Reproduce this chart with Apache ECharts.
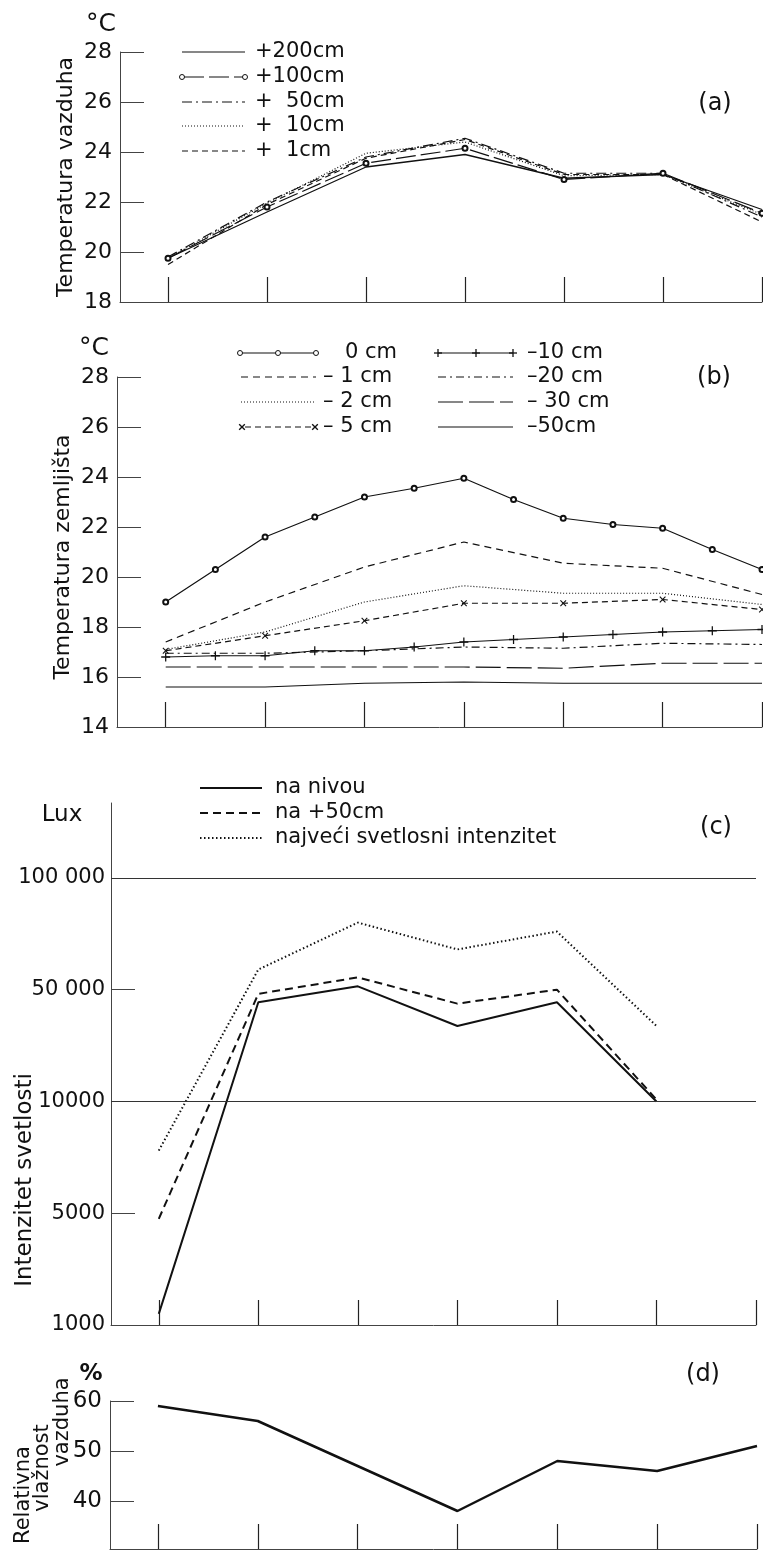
<!doctype html>
<html>
<head>
  <meta charset="utf-8">
  <script src="https://cdn.jsdelivr.net/npm/echarts@6/dist/echarts.min.js"></script>
  <style>
    html, body { margin: 0; width: 100%; height: 100%; background: #fff; }
    #main { width: 763px; height: 1551px; }
  </style>
</head>
<body>
  <div id="main"></div>
  <script>
    // x positions (time steps) - ticks 0..6, soil readings also at half steps
    var xWhole = [0, 1, 2, 3, 4, 5, 6];
    var xHalf = [0, 0.5, 1, 1.5, 2, 2.5, 3, 3.5, 4, 4.5, 5, 5.5, 6];
    var xLux = [0, 1, 2, 3, 4, 5];

    // (a) temperatura vazduha, °C
    var air200 = [19.75, 21.6, 23.4, 23.9, 22.95, 23.1, 21.7];
    var air100 = [19.75, 21.8, 23.55, 24.15, 22.9, 23.15, 21.55];
    var air50 = [19.8, 22.0, 23.8, 24.55, 23.15, 23.15, 21.4];
    var air10 = [19.75, 21.95, 23.95, 24.4, 23.05, 23.1, 21.5];
    var air1 = [19.5, 21.9, 23.75, 24.5, 23.1, 23.1, 21.2];

    // (b) temperatura zemljista, °C
    var soil0 = [19.0, 20.3, 21.6, 22.4, 23.2, 23.55, 23.95, 23.1, 22.35, 22.1, 21.95, 21.1, 20.3];
    var soil1 = [17.4, 19.0, 20.4, 21.4, 20.55, 20.35, 19.3];
    var soil2 = [17.1, 17.8, 19.0, 19.65, 19.35, 19.35, 18.9];
    var soil5 = [17.05, 17.65, 18.25, 18.95, 18.95, 19.1, 18.7];
    var soil10 = [16.8, 16.85, 16.85, 17.05, 17.05, 17.2, 17.4, 17.5, 17.6, 17.7, 17.8, 17.85, 17.9];
    var soil20 = [16.95, 16.95, 17.05, 17.2, 17.15, 17.35, 17.3];
    var soil30 = [16.4, 16.4, 16.4, 16.4, 16.35, 16.55, 16.55];
    var soil50 = [15.6, 15.6, 15.75, 15.8, 15.75, 15.75, 15.75];

    // (c) intenzitet svetlosti, lux
    var luxLevel = [1400, 45500, 51500, 37000, 45500, 10000];
    var lux50 = [4800, 48500, 55500, 45000, 50000, 10700];
    var luxMax = [7800, 59000, 80000, 68000, 76000, 37000];
    var luxTicks = [1000, 5000, 10000, 50000, 100000];
    var luxTickLabels = ['1000', '5000', '10000', '50 000', '100 000'];

    // (d) relativna vlaznost vazduha, %
    var humidity = [59, 56, 47, 38, 48, 46, 51];

    var FONT = 'DejaVu Sans';
    var INK = '#111';

    function zip(xs, ys) {
      return xs.map(function (x, i) { return [x, ys[i]]; });
    }

    // the lux axis has equally spaced ticks: 1000, 5000, 10000, 50000, 100000
    function luxPos(v) {
      for (var i = 0; i < luxTicks.length - 1; i++) {
        if (v <= luxTicks[i + 1]) {
          return i + (v - luxTicks[i]) / (luxTicks[i + 1] - luxTicks[i]);
        }
      }
      var n = luxTicks.length - 1;
      return n + (v - luxTicks[n]) / (luxTicks[n] - luxTicks[n - 1]);
    }

    var plusSymbol = 'path://M4.3,0H5.7V10H4.3Z M0,4.3H10V5.7H0Z';

    function xAxisFor(gridIndex, min) {
      return {
        type: 'value', gridIndex: gridIndex, min: min, max: 6,
        axisLine: { show: true, onZero: false, lineStyle: { color: '#444', width: 1 } },
        axisTick: { show: true, inside: true, length: 25, customValues: xWhole, lineStyle: { color: '#222', width: 1.2 } },
        axisLabel: { show: false },
        splitLine: { show: false }
      };
    }

    function yAxisBase(gridIndex) {
      return {
        type: 'value', gridIndex: gridIndex,
        axisLine: { show: true, onZero: false, lineStyle: { color: '#444', width: 1 } },
        axisTick: { show: true, inside: true, length: 24, lineStyle: { color: '#444', width: 1 } },
        axisLabel: { color: INK, fontFamily: FONT, fontSize: 22, margin: 8 },
        splitLine: { show: false }
      };
    }

    function lineSeries(name, xi, yi, data, style, extra) {
      var s = {
        name: name, type: 'line', xAxisIndex: xi, yAxisIndex: yi,
        data: data, symbol: 'none', silent: true,
        lineStyle: Object.assign({ color: INK, width: 1.2, type: 'solid' }, style)
      };
      return Object.assign(s, extra || {});
    }

    // legend pieces drawn as graphic elements
    function gLine(x1, x2, y, dash, w) {
      return {
        type: 'line', shape: { x1: x1, y1: y, x2: x2, y2: y },
        style: { stroke: INK, lineWidth: w || 1.2, lineDash: dash || null }
      };
    }
    function gCircle(x, y) {
      return { type: 'circle', shape: { cx: x, cy: y, r: 2.5 }, style: { fill: '#fff', stroke: INK, lineWidth: 1 } };
    }
    function gPlus(x, y, rot) {
      return {
        type: 'group', x: x, y: y, rotation: rot || 0,
        children: [
          { type: 'line', shape: { x1: -4, y1: 0, x2: 4, y2: 0 }, style: { stroke: INK, lineWidth: 1.3 } },
          { type: 'line', shape: { x1: 0, y1: -4, x2: 0, y2: 4 }, style: { stroke: INK, lineWidth: 1.3 } }
        ]
      };
    }
    function gText(text, x, y, size, opts) {
      opts = opts || {};
      return {
        type: 'text', x: x, y: y, rotation: opts.rotation || 0,
        style: {
          text: text, fill: INK, font: (opts.weight || 'normal') + ' ' + size + 'px "' + FONT + '"',
          textAlign: opts.align || 'left', textVerticalAlign: 'middle'
        }
      };
    }

    var graphics = [];
    // units, axis titles, panel letters
    graphics.push(gText('°C', 101, 24, 25, { align: 'center' }));
    graphics.push(gText('°C', 94, 348, 25, { align: 'center' }));
    graphics.push(gText('Lux', 62, 815, 23, { align: 'center' }));
    graphics.push(gText('%', 91, 1374, 23, { align: 'center', weight: 'bold' }));
    graphics.push(gText('Temperatura vazduha', 66, 177, 22, { align: 'center', rotation: Math.PI / 2 }));
    graphics.push(gText('Temperatura zemljišta', 63, 557, 22, { align: 'center', rotation: Math.PI / 2 }));
    graphics.push(gText('Intenzitet svetlosti', 25, 1180, 23, { align: 'center', rotation: Math.PI / 2 }));
    graphics.push(gText('Relativna', 24, 1495, 21, { align: 'center', rotation: Math.PI / 2 }));
    graphics.push(gText('vlažnost', 43, 1468, 21, { align: 'center', rotation: Math.PI / 2 }));
    graphics.push(gText('vazduha', 63, 1422, 21, { align: 'center', rotation: Math.PI / 2 }));
    graphics.push(gText('(a)', 715, 104, 24, { align: 'center' }));
    graphics.push(gText('(b)', 714, 378, 24, { align: 'center' }));
    graphics.push(gText('(c)', 716, 828, 24, { align: 'center' }));
    graphics.push(gText('(d)', 703, 1375, 24, { align: 'center' }));

    // legend (a)
    var la = [52, 77, 102, 126, 151];
    graphics.push(gLine(182, 245, la[0]));
    graphics.push(gText('+200cm', 255, la[0], 21));
    graphics.push(gLine(184, 243, la[1], [20, 5]));
    graphics.push(gCircle(182, la[1]), gCircle(245, la[1]));
    graphics.push(gText('+100cm', 255, la[1], 21));
    graphics.push(gLine(182, 245, la[2], [10, 4, 2, 4]));
    graphics.push(gText('+  50cm', 255, la[2], 21));
    graphics.push(gLine(182, 245, la[3], [1, 2]));
    graphics.push(gText('+  10cm', 255, la[3], 21));
    graphics.push(gLine(182, 245, la[4], [6, 4]));
    graphics.push(gText('+  1cm', 255, la[4], 21));

    // legend (b)
    var lb = [353, 377, 402, 427];
    graphics.push(gLine(242, 314, lb[0]));
    graphics.push(gCircle(240, lb[0]), gCircle(278, lb[0]), gCircle(316, lb[0]));
    graphics.push(gText('0 cm', 345, lb[0], 21));
    graphics.push(gLine(241, 316, lb[1], [7, 5]));
    graphics.push(gText('– 1 cm', 323, lb[1], 21));
    graphics.push(gLine(241, 316, lb[2], [1, 2]));
    graphics.push(gText('– 2 cm', 323, lb[2], 21));
    graphics.push(gLine(245, 312, lb[3], [6, 4]));
    graphics.push(gPlus(242, lb[3], Math.PI / 4), gPlus(315, lb[3], Math.PI / 4));
    graphics.push(gText('– 5 cm', 323, lb[3], 21));
    graphics.push(gLine(438, 513, lb[0]));
    graphics.push(gPlus(438, lb[0]), gPlus(476, lb[0]), gPlus(513, lb[0]));
    graphics.push(gText('–10 cm', 527, lb[0], 21));
    graphics.push(gLine(438, 513, lb[1], [8, 4, 2, 4]));
    graphics.push(gText('–20 cm', 527, lb[1], 21));
    graphics.push(gLine(438, 513, lb[2], [25, 6]));
    graphics.push(gText('– 30 cm', 527, lb[2], 21));
    graphics.push(gLine(438, 513, lb[3]));
    graphics.push(gText('–50cm', 527, lb[3], 21));

    // legend (c)
    var lc = [788, 813, 838];
    graphics.push(gLine(200, 262, lc[0], null, 2));
    graphics.push(gText('na nivou', 275, lc[0], 21));
    graphics.push(gLine(200, 262, lc[1], [8, 5], 2));
    graphics.push(gText('na +50cm', 275, lc[1], 21));
    graphics.push(gLine(200, 262, lc[2], [1.5, 2.5], 2));
    graphics.push(gText('najveći svetlosni intenzitet', 275, lc[2], 21));

    var yA = Object.assign(yAxisBase(0), { min: 18, max: 28, interval: 2 });
    var yB = Object.assign(yAxisBase(1), { min: 14, max: 28, interval: 2 });
    var yC = yAxisBase(2);
    yC.min = 0;
    yC.max = 4.67;
    yC.axisTick = Object.assign({}, yC.axisTick, { customValues: [1, 3] });
    yC.axisLabel = Object.assign({}, yC.axisLabel, {
      customValues: [0, 1, 2, 3, 4], margin: 6, fontSize: 21,
      formatter: function (v) { return luxTickLabels[Math.round(v)]; }
    });
    var yD = yAxisBase(3);
    yD.min = 30.4;
    yD.max = 60;
    yD.axisTick = Object.assign({}, yD.axisTick, { customValues: [40, 50, 60] });
    yD.axisLabel = Object.assign({}, yD.axisLabel, { customValues: [40, 50, 60], fontSize: 23 });

    var option = {
      animation: false,
      backgroundColor: '#fff',
      grid: [
        { left: 120, right: 1, top: 52, height: 250 },
        { left: 117, right: 1, top: 377, height: 350 },
        { left: 111, right: 7, top: 803, height: 522 },
        { left: 110, right: 6, top: 1401, height: 148 }
      ],
      xAxis: [xAxisFor(0, -0.485), xAxisFor(1, -0.49), xAxisFor(2, -0.48), xAxisFor(3, -0.48)],
      yAxis: [yA, yB, yC, yD],
      graphic: graphics,
      series: [
        lineSeries('+200cm', 0, 0, zip(xWhole, air200), { width: 1.3 }),
        lineSeries('+100cm', 0, 0, zip(xWhole, air100), { type: [20, 5] },
          { symbol: 'emptyCircle', symbolSize: 5, itemStyle: { color: INK, borderWidth: 1 } }),
        lineSeries('+50cm', 0, 0, zip(xWhole, air50), { type: [10, 4, 2, 4] }),
        lineSeries('+10cm', 0, 0, zip(xWhole, air10), { type: [1, 2] }),
        lineSeries('+1cm', 0, 0, zip(xWhole, air1), { type: [6, 4] }),

        lineSeries('0 cm', 1, 1, zip(xHalf, soil0), {},
          { symbol: 'emptyCircle', symbolSize: 5, itemStyle: { color: INK, borderWidth: 1 } }),
        lineSeries('-1 cm', 1, 1, zip(xWhole, soil1), { type: [7, 5] }),
        lineSeries('-2 cm', 1, 1, zip(xWhole, soil2), { type: [1, 2] }),
        lineSeries('-5 cm', 1, 1, zip(xWhole, soil5), { type: [6, 4] },
          { symbol: plusSymbol, symbolRotate: 45, symbolSize: 8, itemStyle: { color: INK } }),
        lineSeries('-10 cm', 1, 1, zip(xHalf, soil10), {},
          { symbol: plusSymbol, symbolSize: 9, itemStyle: { color: INK } }),
        lineSeries('-20 cm', 1, 1, zip(xWhole, soil20), { type: [8, 4, 2, 4] }),
        lineSeries('-30 cm', 1, 1, zip(xWhole, soil30), { type: [25, 6] }),
        lineSeries('-50 cm', 1, 1, zip(xWhole, soil50), {}),

        lineSeries('na nivou', 2, 2, xLux.map(function (x, i) { return [x, luxPos(luxLevel[i])]; }), { width: 2 }, {
          markLine: {
            silent: true, symbol: ['none', 'none'], label: { show: false },
            lineStyle: { color: '#333', width: 1.2, type: 'solid' },
            data: [{ yAxis: luxPos(10000) }, { yAxis: luxPos(100000) }]
          }
        }),
        lineSeries('na +50cm', 2, 2, xLux.map(function (x, i) { return [x, luxPos(lux50[i])]; }), { width: 2, type: [8, 5] }),
        lineSeries('najveći svetlosni intenzitet', 2, 2, xLux.map(function (x, i) { return [x, luxPos(luxMax[i])]; }), { width: 2, type: [1.5, 2.5] }),

        lineSeries('Relativna vlažnost vazduha', 3, 3, zip(xWhole, humidity), { width: 2.5 })
      ]
    };

    var chart = echarts.init(document.getElementById('main'));
    chart.setOption(option);
  </script>
</body>
</html>
